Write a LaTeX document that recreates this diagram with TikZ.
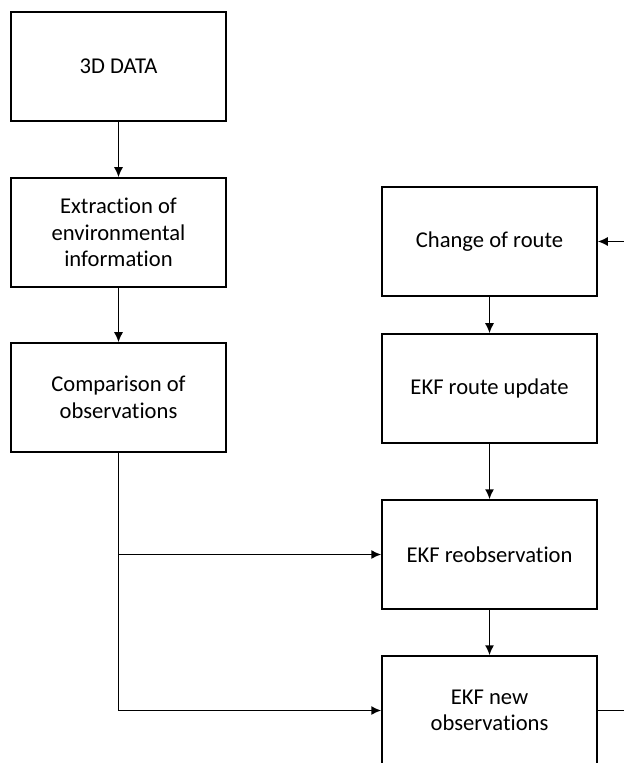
\documentclass[tikz,border=0pt]{standalone}
\usepackage{fontspec}
\setmainfont{Carlito}[Ligatures=NoCommon]
\usetikzlibrary{arrows.meta,positioning,calc}

\begin{document}
\begin{tikzpicture}[x=0.5pt,y=-0.5pt,>={Latex[length=5pt,width=4.5pt]},line width=0.75pt,
    block/.style={draw,rectangle,minimum width=107.5pt,minimum height=54.5pt,
        align=center,font=\fontsize{11.3}{13.2}\selectfont}]
    \useasboundingbox (0,0) rectangle (624,763);
    \clip (0,0) rectangle (624,763);

    \node [block](data) at (118.5,66.5) {3D DATA};
    \node [block](extract) at (118.5,232.5) {Extraction of\\environmental\\information};
    \node [block](compare) at (118.5,397.5) {Comparison of\\observations};
    \node [block](route) at (489.5,241.5) {Change of route};
    \node [block](update) at (489.5,388.5) {EKF route update};
    \node [block](reobs) at (489.5,554.5) {EKF reobservation};
    \node [block](newobs) at (489.5,710.5) {EKF new\\observations};
    \coordinate (rin) at (624,241.5);
    \coordinate (rout) at (624,710.5);

    \draw[->] (data) -- (extract);
    \draw[->] (extract) -- (compare);
    \draw[->] (rin) -- (route);
    \draw[->] (route) -- (update);
    \draw[->] (update) -- (reobs);
    \draw[->] (reobs) -- (newobs);
    \draw[->] (compare.south) |- (newobs.west);
    \draw[->] (compare.south |- reobs.west) -- (reobs.west);
    \draw (newobs.east) -- (rout);
\end{tikzpicture}
\end{document}
